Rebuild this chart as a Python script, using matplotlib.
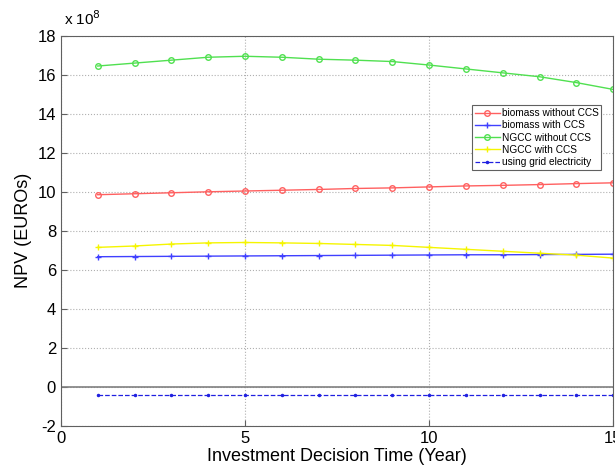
import matplotlib.pyplot as plt
import numpy as np

plt.rcParams['font.family'] = ['Liberation Sans', 'DejaVu Sans']
plt.rcParams['axes.unicode_minus'] = False

years = np.arange(1, 16)

# NPV in units of 1e8 EUR
biomass_no_ccs = [9.85, 9.9, 9.95, 10.0, 10.04, 10.08, 10.12, 10.17, 10.2, 10.25, 10.3, 10.33, 10.37, 10.42, 10.46]
biomass_ccs = [6.67, 6.68, 6.69, 6.7, 6.71, 6.72, 6.73, 6.74, 6.75, 6.76, 6.77, 6.77, 6.78, 6.79, 6.8]
ngcc_no_ccs = [16.45, 16.6, 16.75, 16.9, 16.95, 16.9, 16.8, 16.75, 16.68, 16.5, 16.3, 16.1, 15.9, 15.6, 15.25]
ngcc_ccs = [7.15, 7.22, 7.32, 7.38, 7.4, 7.38, 7.35, 7.3, 7.25, 7.15, 7.05, 6.95, 6.85, 6.75, 6.6]
grid_elec = [-0.42] * 15

fig = plt.figure(figsize=(6.15, 4.71), dpi=100)
ax = fig.add_axes([0.099, 0.096, 0.898, 0.828])

ax.plot(years, biomass_no_ccs, color='#ff6060', marker='o', ms=4, mfc='none', lw=1, label='biomass without CCS')
ax.plot(years, biomass_ccs, color='#4040ff', marker='+', ms=4, lw=1, label='biomass with CCS')
ax.plot(years, ngcc_no_ccs, color='#50e050', marker='o', ms=4, mfc='none', lw=1, label='NGCC without CCS')
ax.plot(years, ngcc_ccs, color='#f5f500', marker='+', ms=4, lw=1, label='NGCC with CCS')
ax.plot(years, grid_elec, color='#2020e0', marker='.', ms=3, ls='--', lw=0.9, label='using grid electricity')

ax.axhline(0, color='#808080', lw=1.2)

ax.set_xlim(0, 15)
ax.set_ylim(-2, 18)
ax.set_xticks([0, 5, 10, 15])
ax.set_yticks(np.arange(-2, 19, 2))
ax.tick_params(direction='in', labelsize=12, length=4, color='#606060')
ax.grid(True, ls=':', color='#b0b0b0', lw=0.8)
for s in ax.spines.values():
    s.set_color('#606060')

ax.set_xlabel('Investment Decision Time (Year)', fontsize=13, labelpad=2)
ax.set_ylabel('NPV (EUROs)', fontsize=13)
ax.text(0.005, 1.02, r'x 10$^8$', transform=ax.transAxes, fontsize=11, ha='left', va='bottom')

leg = ax.legend(loc='upper right', bbox_to_anchor=(0.988, 0.835), fontsize=7.3,
                fancybox=False, framealpha=1, edgecolor='#606060', handlelength=2.4,
                borderpad=0.3, labelspacing=0.22, handletextpad=0.2)
leg.get_frame().set_linewidth(0.8)

fig.savefig('out.png', dpi=100)
